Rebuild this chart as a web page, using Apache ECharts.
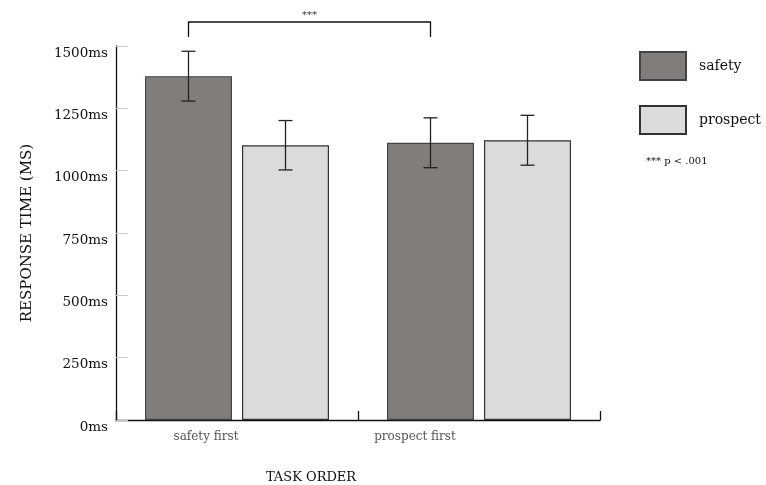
<!DOCTYPE html>
<html>
<head>
<meta charset="utf-8">
<script src="https://cdn.jsdelivr.net/npm/echarts@6/dist/echarts.min.js"></script>
<style>
html,body{margin:0;padding:0;background:#fff;}
#chart{width:766px;height:485px;}
</style>
</head>
<body>
<div id="chart"></div>
<script>
var categories = ['safety first', 'prospect first'];
var seriesNames = ['safety', 'prospect'];
var safetyMeans = [1379, 1112];
var prospectMeans = [1102, 1122];
var safetyErr = [100, 100];
var prospectErr = [99, 100];
var yTicks = [0, 250, 500, 750, 1000, 1250, 1500];
var sigLabel = '***';
var noteLabel = '*** p < .001';

var FONT = 'DejaVu Serif';
var BAR_W = 87;
var GAP = 10;
var chart = echarts.init(document.getElementById('chart'));

function errSeries(means, errs, offsetSign) {
  return {
    type: 'custom',
    silent: true,
    z: 10,
    data: means.map(function (m, i) { return [i, m - errs[i], m + errs[i]]; }),
    renderItem: function (params, api) {
      var lo = api.coord([api.value(0), api.value(1)]);
      var hi = api.coord([api.value(0), api.value(2)]);
      var x = lo[0] + offsetSign * (BAR_W + GAP) / 2;
      var hw = 7;
      var st = { stroke: '#222', lineWidth: 1.3 };
      return {
        type: 'group',
        children: [
          { type: 'line', shape: { x1: x, y1: hi[1], x2: x, y2: lo[1] }, style: st },
          { type: 'line', shape: { x1: x - hw, y1: hi[1], x2: x + hw, y2: hi[1] }, style: st },
          { type: 'line', shape: { x1: x - hw, y1: lo[1], x2: x + hw, y2: lo[1] }, style: st }
        ]
      };
    }
  };
}

chart.setOption({
  animation: false,
  backgroundColor: '#fff',
  grid: { left: 116, right: 166, top: 46, bottom: 65, containLabel: false, outerBoundsMode: 'none' },
  legend: {
    orient: 'vertical',
    left: 634,
    top: 46,
    itemWidth: 46,
    itemHeight: 28,
    itemGap: 24,
    icon: 'rect',
    data: seriesNames,
    textStyle: { fontFamily: FONT, fontSize: 14, color: '#111', padding: [0, 0, 0, 8] }
  },
  xAxis: {
    type: 'category',
    data: categories,
    name: 'TASK ORDER',
    nameLocation: 'middle',
    nameGap: 51,
    nameTextStyle: { fontFamily: FONT, fontSize: 13, color: '#111', padding: [0, 94, 0, 0] },
    axisLine: { lineStyle: { color: '#111', width: 1.3 } },
    axisTick: { show: true, interval: 0, inside: true, length: 9, lineStyle: { color: '#111', width: 1.3 } },
    axisLabel: {
      fontFamily: FONT, fontSize: 12, color: '#555', margin: 11,
      formatter: function (v, i) { return i === 0 ? '{a|' + v + '}' : '{b|' + v + '}'; },
      rich: {
        a: { fontFamily: FONT, fontSize: 12, color: '#555', padding: [0, 62, 0, 0] },
        b: { fontFamily: FONT, fontSize: 12, color: '#555', padding: [0, 128, 0, 0] }
      }
    }
  },
  yAxis: {
    type: 'value',
    min: 0,
    max: 1500,
    interval: 250,
    name: 'RESPONSE TIME (MS)',
    nameLocation: 'middle',
    nameGap: 81,
    nameTextStyle: { fontFamily: FONT, fontSize: 15, color: '#111' },
    axisLine: { show: true, lineStyle: { color: '#111', width: 1.3 } },
    axisTick: { show: true, inside: true, length: 12, lineStyle: { color: '#ccc', width: 1 } },
    splitLine: { show: false },
    axisLabel: {
      fontFamily: FONT, fontSize: 13.5, color: '#111', margin: 8, verticalAlign: 'top',
      formatter: function (v) { return yTicks.indexOf(v) >= 0 ? v + 'ms' : ''; }
    }
  },
  series: [
    {
      name: seriesNames[0], type: 'bar', data: safetyMeans,
      barWidth: BAR_W, barGap: (GAP / BAR_W * 100).toFixed(1) + '%',
      itemStyle: { color: '#817d7b', borderColor: '#444', borderWidth: 1.2 }
    },
    {
      name: seriesNames[1], type: 'bar', data: prospectMeans,
      barWidth: BAR_W,
      itemStyle: { color: '#dcdadb', borderColor: '#333', borderWidth: 1.2 }
    },
    errSeries(safetyMeans, safetyErr, -1),
    errSeries(prospectMeans, prospectErr, 1)
  ]
});

// significance bracket between the safety bars of both task orders
var pA = chart.convertToPixel({ gridIndex: 0 }, [0, 1500]);
var pB = chart.convertToPixel({ gridIndex: 0 }, [1, 1500]);
var off = (BAR_W + GAP) / 2;
var bx0 = pA[0] - off, bx1 = pB[0] - off;
var by = pA[1] - 24, bBottom = pA[1] - 9;
chart.setOption({
  graphic: [
    { type: 'polyline', shape: { points: [[bx0, bBottom], [bx0, by], [bx1, by], [bx1, bBottom]] },
      style: { stroke: '#111', lineWidth: 1.3, fill: null } },
    { type: 'text', x: (bx0 + bx1) / 2, y: by - 2,
      style: { text: sigLabel, fontFamily: FONT, fontSize: 10, fill: '#333', align: 'center', verticalAlign: 'bottom' } },
    { type: 'text', x: 646, y: 161,
      style: { text: noteLabel, fontFamily: FONT, fontSize: 10, fill: '#111', align: 'left', verticalAlign: 'middle' } }
  ]
});
</script>
</body>
</html>
